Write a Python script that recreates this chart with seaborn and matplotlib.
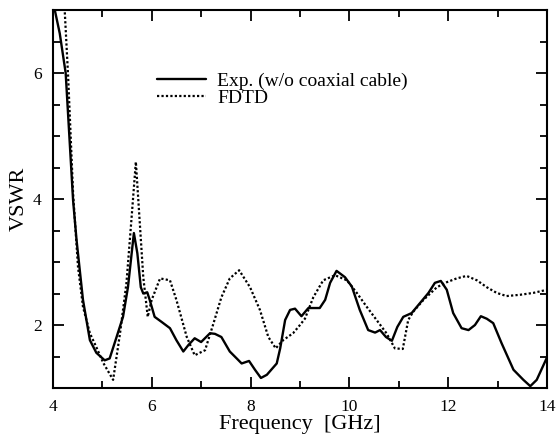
import numpy as np
import pandas as pd
import matplotlib
matplotlib.use("Agg")
import matplotlib.pyplot as plt
import seaborn as sns
from matplotlib.ticker import MultipleLocator


exp_freq = [4.0, 4.04, 4.14, 4.26, 4.41, 4.48, 4.61, 4.75, 4.88, 5.05, 5.15, 5.29,
            5.42, 5.52, 5.64, 5.71, 5.78, 5.83, 5.91, 5.96, 6.06, 6.2, 6.37, 6.5,
            6.64, 6.74, 6.87, 7.0, 7.18, 7.28, 7.41, 7.58, 7.72, 7.82, 7.97, 8.09,
            8.21, 8.33, 8.53, 8.6, 8.7, 8.8, 8.9, 9.03, 9.17, 9.4, 9.51, 9.61,
            9.74, 9.91, 10.05, 10.21, 10.38, 10.52, 10.62, 10.74, 10.86, 10.97,
            11.09, 11.26, 11.43, 11.6, 11.73, 11.85, 11.97, 12.1, 12.27, 12.41,
            12.54, 12.66, 12.78, 12.91, 13.08, 13.32, 13.52, 13.66, 13.79, 14.0]
exp_vswr = [7.1, 7.0, 6.63, 6.0, 3.98, 3.35, 2.40, 1.76, 1.56, 1.44, 1.47, 1.81,
            2.13, 2.60, 3.46, 3.14, 2.60, 2.50, 2.52, 2.40, 2.13, 2.05, 1.95, 1.76,
            1.58, 1.68, 1.79, 1.73, 1.87, 1.86, 1.81, 1.58, 1.47, 1.39, 1.43, 1.29,
            1.16, 1.21, 1.39, 1.63, 2.08, 2.24, 2.26, 2.14, 2.27, 2.27, 2.40, 2.67,
            2.86, 2.76, 2.61, 2.24, 1.92, 1.88, 1.92, 1.81, 1.75, 1.97,
            2.13, 2.19, 2.35, 2.51, 2.67, 2.70, 2.56, 2.19, 1.95, 1.92,
            2.0, 2.14, 2.10, 2.03, 1.71, 1.29, 1.13, 1.03, 1.13, 1.49]

# FDTD result
fdtd_freq = [4.2, 4.24, 4.31, 4.41, 4.51, 4.61, 4.75, 4.88, 5.02, 5.22, 5.36, 5.49,
             5.59, 5.68, 5.73, 5.83, 5.92, 6.0, 6.1, 6.17, 6.37, 6.5, 6.71, 6.87,
             7.08, 7.24, 7.41, 7.58, 7.77, 7.99, 8.19, 8.36, 8.51, 8.66, 8.86, 9.0,
             9.1, 9.27, 9.47, 9.71, 9.95, 10.15, 10.35, 10.55, 10.75, 10.92, 11.08,
             11.19, 11.29, 11.5, 11.77, 11.97, 12.17, 12.37, 12.58, 12.78, 12.98,
             13.18, 13.45, 13.72, 14.0]
fdtd_vswr = [7.6, 7.0, 5.94, 4.09, 2.92, 2.29, 1.87, 1.65, 1.40, 1.13, 1.87, 2.67,
             3.67, 4.59, 3.98, 2.76, 2.13, 2.40, 2.60, 2.74, 2.71, 2.40, 1.81, 1.52,
             1.60, 2.00, 2.44, 2.74, 2.87, 2.60, 2.24, 1.81, 1.63, 1.76, 1.87, 2.0,
             2.1, 2.44, 2.71, 2.79, 2.71, 2.51, 2.29, 2.08, 1.87, 1.63, 1.62,
             2.08, 2.21, 2.40, 2.60, 2.68, 2.74, 2.78, 2.71, 2.60, 2.51,
             2.46, 2.48, 2.51, 2.56]

exp_df = pd.DataFrame({"freq": exp_freq, "vswr": exp_vswr})
fdtd_df = pd.DataFrame({"freq": fdtd_freq, "vswr": fdtd_vswr})

sns.set_style("ticks", {"axes.edgecolor": "black", "text.color": "black",
                        "xtick.color": "black", "ytick.color": "black",
                        "axes.labelcolor": "black"})
plt.rcParams["font.family"] = ["Liberation Serif", "DejaVu Serif"]

fig = plt.figure(figsize=(5.56, 4.36), dpi=100)
ax = fig.add_axes([0.095, 0.110, 0.889, 0.867])

sns.lineplot(data=exp_df, x="freq", y="vswr", ax=ax, color="black",
             linewidth=1.7, label="Exp. (w/o coaxial cable)")
sns.lineplot(data=fdtd_df, x="freq", y="vswr", ax=ax, color="black",
             linewidth=1.6, linestyle=(0, (1, 1)), label="FDTD")

ax.set_xlim(4, 14)
ax.set_ylim(1, 7)
ax.xaxis.set_major_locator(MultipleLocator(2))
ax.xaxis.set_minor_locator(MultipleLocator(1))
ax.yaxis.set_major_locator(MultipleLocator(2))
ax.yaxis.set_minor_locator(MultipleLocator(0.5))
ax.tick_params(which="both", direction="in", top=True, right=True,
               labelsize=12.5, width=1.3, colors="black")
ax.tick_params(which="major", length=8, pad=8)
ax.tick_params(which="minor", length=5)
for s in ax.spines.values():
    s.set_linewidth(1.5)
    s.set_color("black")

ax.set_xlabel("Frequency  [GHz]", fontsize=16, labelpad=0, color="black")
ax.set_ylabel("VSWR", fontsize=16, labelpad=3, color="black")

ax.legend(loc="upper left", bbox_to_anchor=(0.195, 0.857), frameon=False,
          fontsize=14, handlelength=2.5, handletextpad=0.6, labelspacing=0.0,
          borderaxespad=0)

fig.savefig("out.png", dpi=100)
